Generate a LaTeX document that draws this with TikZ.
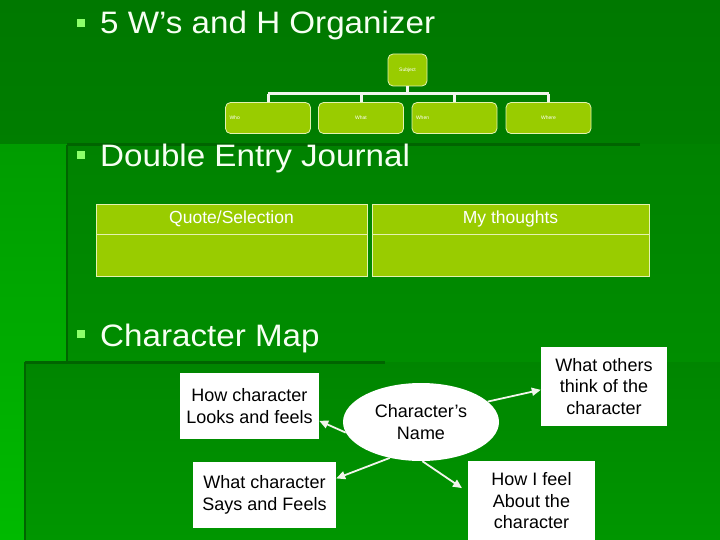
\documentclass[tikz,border=0pt]{standalone}
\usepackage{fontspec}
\setmainfont{Liberation Sans}
\usetikzlibrary{shapes.geometric,arrows.meta}
\definecolor{bgtop}{HTML}{007800}
\definecolor{bgbot}{HTML}{008E00}
\definecolor{slidetop}{HTML}{008200}
\definecolor{slidebot}{HTML}{009600}
\definecolor{striptop}{HTML}{009C00}
\definecolor{stripbot}{HTML}{00BA00}
\definecolor{shadow}{HTML}{006400}
\definecolor{lime}{HTML}{99CC00}
\definecolor{limeedge}{HTML}{E4F2B0}
\definecolor{bulletgreen}{HTML}{8CFF6A}
\definecolor{titlewhite}{HTML}{F6FFF2}
\definecolor{linkwhite}{HTML}{F2F5EC}
\tikzset{
  titletext/.style={anchor=base west, inner sep=0pt, text=titlewhite,
    font=\fontsize{31}{36}\selectfont},
  bulletbox/.style={fill=bulletgreen, minimum size=8pt, inner sep=0pt},
  orgbox/.style={draw=limeedge, line width=0.8pt, fill=lime, rounded corners=5pt,
    inner sep=4pt, text=white, font=\fontsize{5}{6}\selectfont},
  cellbox/.style={draw=limeedge, line width=0.8pt, fill=lime, inner sep=0pt,
    text=white, font=\fontsize{17.5}{20}\selectfont},
  mapbox/.style={fill=white, inner sep=0pt, align=center, text=black,
    font=\fontsize{18}{21.5}\selectfont},
  maparrow/.style={draw=linkwhite, line width=1.8pt,
    -{Triangle[length=9pt,width=8pt]}},
  orgline/.style={draw=linkwhite, line width=3pt}
}
\begin{document}
\begin{tikzpicture}[x=1pt,y=-1pt]
\useasboundingbox (0,0) rectangle (720,540);
% backgrounds
\shade[top color=bgtop, bottom color=bgbot] (0,0) rectangle (720,540);
\shade[top color=striptop, bottom color=stripbot] (0,145) rectangle (67,540);
\shade[top color=slidetop, bottom color=slidebot] (67,145) rectangle (720,540);
\shade[top color=slidetop!85!slidebot, bottom color=slidebot] (25,362) rectangle (720,540);
\draw[shadow, line width=3pt] (67,145) -- (640,145);
\draw[shadow, line width=2.5pt] (67,145) -- (67,362);
\draw[shadow, line width=3pt] (25,362) -- (385,362);
\draw[shadow, line width=2.5pt] (25,362) -- (25,540);

% titles
\node[bulletbox] (b1) at (80.5,23) {};
\node[titletext] (t1) at (100,34) {\scalebox{1.07}[1]{5 W’s and H Organizer}};
\node[bulletbox] (b2) at (80.5,155.5) {};
\node[titletext] (t2) at (100,167) {\scalebox{1.07}[1]{Double Entry Journal}};
\node[bulletbox] (b3) at (80.5,334) {};
\node[titletext] (t3) at (100,346) {\scalebox{1.07}[1]{Character Map}};

% organizer
\node[orgbox, minimum width=39pt, minimum height=32pt] (subj) at (407.5,70) {Subject};
\node[orgbox, minimum width=85pt, minimum height=31pt, text width=77pt, align=left] (who) at (268,118) {Who};
\node[orgbox, minimum width=85pt, minimum height=31pt] (what) at (361,118) {What};
\node[orgbox, minimum width=85pt, minimum height=31pt, text width=77pt, align=left] (when) at (454.5,118) {When};
\node[orgbox, minimum width=85pt, minimum height=31pt] (where) at (548.5,118) {Where};
\coordinate (bar) at (407.5,94);
\draw[orgline] (subj.south) -- (bar);
\draw[orgline] (who.north |- bar) -- (where.north |- bar);
\draw[orgline] (who.north |- bar) -- (who.north);
\draw[orgline] (what.north |- bar) -- (what.north);
\draw[orgline] (when.north |- bar) -- (when.north);
\draw[orgline] (where.north |- bar) -- (where.north);

% double entry journal
\node[cellbox, minimum width=271pt, minimum height=30pt] (qh) at (231.5,219) {Quote/Selection};
\node[cellbox, minimum width=271pt, minimum height=42pt] (qb) at (231.5,255) {};
\node[cellbox, minimum width=277pt, minimum height=30pt] (mh) at (510.5,219) {My thoughts};
\node[cellbox, minimum width=277pt, minimum height=42pt] (mb) at (510.5,255) {};

% character map
\node[mapbox, minimum width=139pt, minimum height=66pt] (look) at (249.5,406) {How character\\Looks and feels};
\node[mapbox, minimum width=143pt, minimum height=66pt] (says) at (264.5,495) {What character\\Says and Feels};
\node[mapbox, ellipse, minimum width=156pt, minimum height=78pt] (name) at (421,422) {Character’s\\Name};
\node[mapbox, minimum width=126pt, minimum height=79pt] (others) at (604,386.5) {What others\\ think of the\\ character};
\node[mapbox, minimum width=127pt, minimum height=80pt] (feel) at (531.5,501) {How I feel\\About the\\character};

\draw[maparrow] (name.188) -- (look.-12);
\draw[maparrow] (name.229) -- (says.13);
\draw[maparrow] (name.17) -- (others.183);
\draw[maparrow, shorten >=7pt] (name.272) -- (feel.172);
\end{tikzpicture}
\end{document}
